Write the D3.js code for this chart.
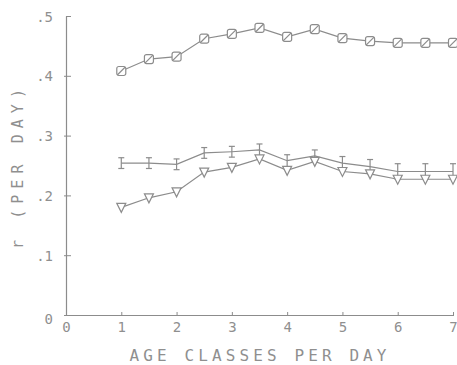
<!DOCTYPE html>
<html>
<head>
<meta charset="utf-8">
<script src="https://cdn.jsdelivr.net/npm/d3@7"></script>
<style>
    body { margin: 0; background: #fff; }
    text { font-family: "DejaVu Sans Mono", monospace; fill: #8f8f8f; }
</style>
</head>
<body>
<div id="chart"></div>
<script>
    // age classes per day
    var ageClasses = [1, 1.5, 2, 2.5, 3, 3.5, 4, 4.5, 5, 5.5, 6, 6.5, 7];
    // r per day, three curves
    var squareSeries = [0.408, 0.428, 0.432, 0.462, 0.470, 0.480, 0.465, 0.478, 0.463, 0.458, 0.455, 0.455, 0.455];
    var barSeries = [0.254, 0.254, 0.252, 0.271, 0.273, 0.276, 0.258, 0.266, 0.254, 0.248, 0.240, 0.240, 0.240];
    var barErr = [0.009, 0.009, 0.009, 0.009, 0.009, 0.010, 0.010, 0.010, 0.011, 0.012, 0.013, 0.013, 0.013];
    var triSeries = [0.180, 0.196, 0.206, 0.239, 0.247, 0.261, 0.242, 0.257, 0.240, 0.236, 0.227, 0.227, 0.227];
    var xTicks = [0, 1, 2, 3, 4, 5, 6, 7];
    var yTicks = [0, 0.1, 0.2, 0.3, 0.4, 0.5];
    var yTickLabels = ["0", ".1", ".2", ".3", ".4", ".5"];

    var W = 457, H = 365;
    var ink = "#8c8c8c";

    var svg = d3.select("#chart").append("svg")
        .attr("width", W)
        .attr("height", H);

    var x = d3.scaleLinear().domain([0, 7]).range([66, 453]);
    var y = d3.scaleLinear().domain([0, 0.5]).range([315, 16]);

    // axes
    var xAxis = svg.append("g").attr("transform", "translate(0," + y(0) + ")");
    xAxis.call(d3.axisBottom(x).tickValues(xTicks).tickSize(0).tickFormat(""));
    xAxis.select(".domain").attr("stroke", ink).attr("stroke-width", 1.2);
    xAxis.selectAll(".tick").append("line")
        .attr("y1", 1).attr("y2", -3)
        .attr("stroke", ink);
    xAxis.selectAll(".tick").append("text")
        .attr("y", 17)
        .attr("text-anchor", "middle")
        .style("font-size", "14px")
        .text(function (d) { return d; });

    var yAxis = svg.append("g").attr("transform", "translate(" + x(0) + ",0)");
    yAxis.call(d3.axisLeft(y).tickValues(yTicks).tickSize(0).tickFormat(""));
    yAxis.select(".domain").attr("stroke", ink).attr("stroke-width", 1.2);
    yAxis.selectAll(".tick").append("line")
        .attr("x1", function (d) { return d === 0.5 ? 0 : -2; })
        .attr("x2", function (d) { return d === 0 ? 0 : 5; })
        .attr("stroke", ink);
    yAxis.selectAll(".tick").append("text")
        .attr("x", -13)
        .attr("dy", function (d) { return d === 0 ? "0.6em" : "0.36em"; })
        .attr("text-anchor", "end")
        .style("font-size", "14px")
        .text(function (d, i) { return yTickLabels[i]; });

    // axis titles
    svg.append("text")
        .attr("x", 258)
        .attr("y", 361)
        .attr("text-anchor", "middle")
        .attr("textLength", 257)
        .attr("lengthAdjust", "spacing")
        .style("font-size", "16px")
        .text("AGE CLASSES PER DAY");

    svg.append("text")
        .attr("transform", "translate(23,249) rotate(-90)")
        .attr("textLength", 160)
        .attr("lengthAdjust", "spacing")
        .style("font-size", "15px")
        .text("r  (PER DAY)");

    function pts(vals) {
        return vals.map(function (v, i) { return [ageClasses[i], v]; });
    }

    var line = d3.line()
        .x(function (d) { return x(d[0]); })
        .y(function (d) { return y(d[1]); });

    var plot = svg.append("g")
        .attr("fill", "none")
        .attr("stroke", ink)
        .attr("stroke-width", 1.2);

    [squareSeries, barSeries, triSeries].forEach(function (s) {
        plot.append("path").attr("d", line(pts(s)));
    });

    // square markers with a slash
    var sq = plot.selectAll("g.sq").data(pts(squareSeries)).enter().append("g")
        .attr("class", "sq")
        .attr("transform", function (d) { return "translate(" + x(d[0]) + "," + y(d[1]) + ")"; });
    sq.append("rect")
        .attr("x", -4.5).attr("y", -4.5)
        .attr("width", 9).attr("height", 9)
        .attr("rx", 2)
        .attr("fill", "#fff");
    sq.append("line")
        .attr("x1", -4).attr("y1", 4)
        .attr("x2", 4).attr("y2", -4);

    // error bars
    var eb = plot.selectAll("g.eb").data(ageClasses).enter().append("g")
        .attr("class", "eb");
    eb.append("line")
        .attr("x1", function (d) { return x(d); })
        .attr("x2", function (d) { return x(d); })
        .attr("y1", function (d, i) { return y(barSeries[i] + barErr[i]); })
        .attr("y2", function (d, i) { return y(barSeries[i] - barErr[i]); });
    eb.append("line")
        .attr("x1", function (d) { return x(d) - 3; })
        .attr("x2", function (d) { return x(d) + 3; })
        .attr("y1", function (d, i) { return y(barSeries[i] + barErr[i]); })
        .attr("y2", function (d, i) { return y(barSeries[i] + barErr[i]); });
    eb.append("line")
        .attr("x1", function (d) { return x(d) - 3; })
        .attr("x2", function (d) { return x(d) + 3; })
        .attr("y1", function (d, i) { return y(barSeries[i] - barErr[i]); })
        .attr("y2", function (d, i) { return y(barSeries[i] - barErr[i]); });

    // downward triangles
    plot.selectAll("path.tri").data(pts(triSeries)).enter().append("path")
        .attr("class", "tri")
        .attr("fill", "#fff")
        .attr("d", function (d) {
            var cx = x(d[0]), cy = y(d[1]);
            return "M" + (cx - 4.5) + "," + (cy - 4) + "L" + (cx + 4.5) + "," + (cy - 4) +
                "L" + cx + "," + (cy + 5) + "Z";
        });
</script>
</body>
</html>
